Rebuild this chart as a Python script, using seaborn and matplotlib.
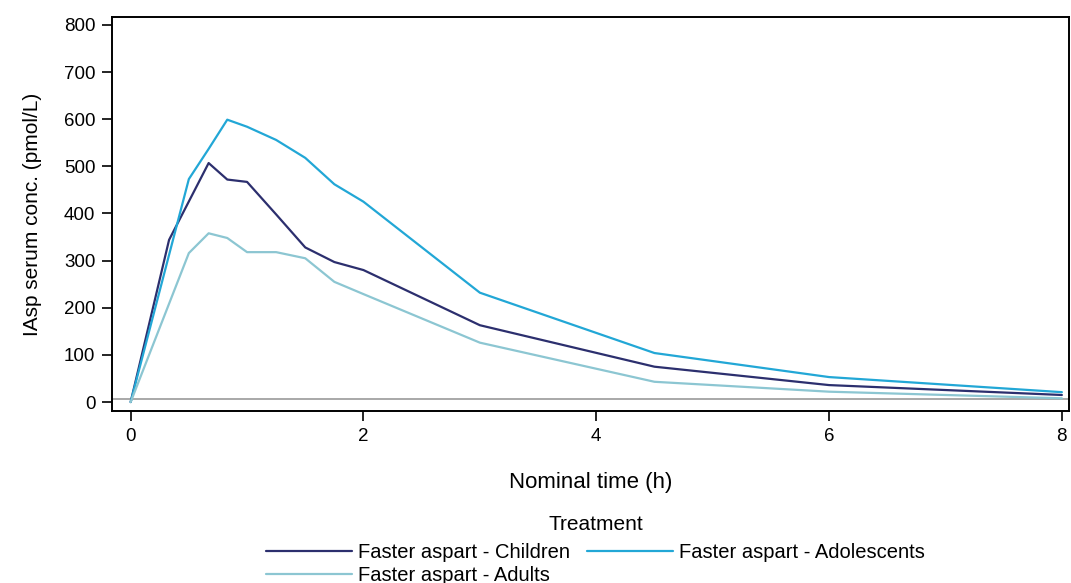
import pandas as pd
import seaborn as sns
import matplotlib.pyplot as plt

# 데이터
children_time = [0, 0.33, 0.67, 0.83, 1.0, 1.25, 1.5, 1.75, 2.0, 3.0, 4.5, 6.0, 8.0]
children_conc = [0, 344, 507, 472, 467, 398, 328, 297, 280, 163, 75, 36, 15]

adolescents_time = [0, 0.5, 0.67, 0.83, 1.0, 1.25, 1.5, 1.75, 2.0, 3.0, 4.5, 6.0, 8.0]
adolescents_conc = [0, 473, 537, 599, 584, 556, 518, 462, 425, 232, 104, 53, 21]

adults_time = [0, 0.5, 0.67, 0.83, 1.0, 1.25, 1.5, 1.75, 2.0, 3.0, 4.5, 6.0, 8.0]
adults_conc = [0, 316, 358, 348, 318, 318, 305, 255, 229, 126, 43, 22, 8]

labels = ['Faster aspart - Children', 'Faster aspart - Adolescents', 'Faster aspart - Adults']
colors = ['#2c2f6e', '#22a7d6', '#8cc6d2']
lloq = 6

df = pd.concat([
    pd.DataFrame({'time': children_time, 'conc': children_conc, 'Treatment': labels[0]}),
    pd.DataFrame({'time': adolescents_time, 'conc': adolescents_conc, 'Treatment': labels[1]}),
    pd.DataFrame({'time': adults_time, 'conc': adults_conc, 'Treatment': labels[2]}),
])

sns.set_style('white')
plt.rcParams['font.family'] = ['Liberation Sans', 'DejaVu Sans']
plt.rcParams['text.color'] = 'black'
plt.rcParams['axes.labelcolor'] = 'black'
plt.rcParams['xtick.color'] = 'black'
plt.rcParams['ytick.color'] = 'black'

fig = plt.figure(figsize=(10.71, 5.83), dpi=100)
ax = fig.add_axes([0.1046, 0.295, 0.8934, 0.676])

ax.axhline(lloq, color='#999999', lw=1.2, zorder=1)
sns.lineplot(data=df, x='time', y='conc', hue='Treatment', palette=colors,
             hue_order=labels, lw=1.6, ax=ax, estimator=None, sort=False)

ax.set_xlim(-0.16, 8.06)
ax.set_ylim(-19, 817)
ax.set_xticks([0, 2, 4, 6, 8])
ax.set_yticks(range(0, 801, 100))
ax.tick_params(direction='out', length=7, width=1.2, labelsize=13.5, pad=5,
               bottom=True, left=True)
for s in ax.spines.values():
    s.set_color('black')
    s.set_linewidth(1.4)

ax.set_xlabel('Nominal time (h)', fontsize=16, labelpad=20)
ax.set_ylabel('IAsp serum conc. (pmol/L)', fontsize=15, labelpad=16)

# 범례 순서: 1행 Children, Adolescents / 2행 Adults
handles, names = ax.get_legend_handles_labels()
order = [0, 2, 1]
ax.get_legend().remove()
leg = fig.legend([handles[i] for i in order], [names[i] for i in order],
                 loc='lower center', bbox_to_anchor=(0.556, -0.022), ncol=2, frameon=False,
                 handlelength=4.3, fontsize=14.5, title='Treatment', title_fontsize=15,
                 columnspacing=0.8, handletextpad=0.3, labelspacing=0.2, borderpad=0.05)
leg._legend_box.sep = 6
for line in leg.get_lines():
    line.set_linewidth(1.6)

plt.savefig('out.png', dpi=100)
